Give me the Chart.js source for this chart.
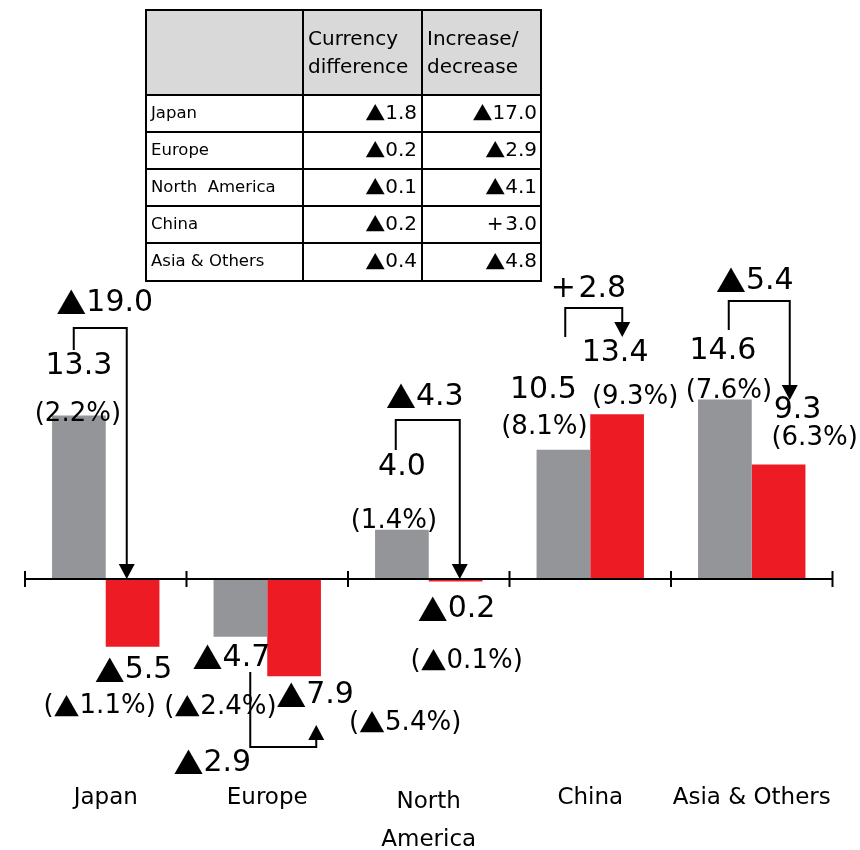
<!DOCTYPE html>
<html>
<head>
<meta charset="utf-8">
<script src="https://cdn.jsdelivr.net/npm/chart.js@4/dist/chart.umd.min.js"></script>
<style>
  html, body { margin:0; padding:0; background:#fff; }
  #wrap { position:relative; width:860px; height:850px; }
</style>
</head>
<body>
<div id="wrap"><canvas id="chart" width="860" height="850"></canvas></div>
<script>
// ====== Data ======
const categories = ['Japan', 'Europe', ['North', 'America'], 'China', 'Asia & Others'];
const prevProfit = [13.3, -4.7, 4.0, 10.5, 14.6];
const currProfit = [-5.5, -7.9, -0.2, 13.4, 9.3];
const prevMargin = ['(2.2%)', '(▲2.4%)', '(1.4%)', '(8.1%)', '(7.6%)'];
const currMargin = ['(▲1.1%)', '(▲5.4%)', '(▲0.1%)', '(9.3%)', '(6.3%)'];
const changeText = ['▲19.0', '▲2.9', '▲4.3', '+2.8', '▲5.4'];

// breakdown table
const tableRegions  = ['Japan', 'Europe', 'North  America', 'China', 'Asia & Others'];
const currencyDiff  = ['▲1.8', '▲0.2', '▲0.1', '▲0.2', '▲0.4'];
const increaseDecr  = ['▲17.0', '▲2.9', '▲4.1', '+3.0', '▲4.8'];

// ====== Layout (offsets in px) ======
// [dx from bar centre, dy from bar end]
const prevValPos = [[0,-49],[-9,21],[0,-63],[-20,-60],[-2,-48]];
const prevPctPos = [[-1,-1],[-20,70],[-8,-9],[-19,-23],[4,-8]];
const currValPos = [[1,24],[21,19],[1,28],[-2,-61],[19,-54]];
const currPctPos = [[-33,60],[111,47],[11,80],[18,-17],[36,-26]];
// bracket: x1, x2 (from category centre), yStart, yTurn, yTip (from zero line); label dx, dy
const brackets = [
  {x1:-32, x2:21, y1:-229, yt:-251, y2:0,    lx:-1,  ly:-276},
  {x1:-17, x2:49, y1:93,   yt:168,  y2:146,  lx:-55, ly:184},
  {x1:-33, x2:31, y1:-129, yt:-159, y2:0,    lx:-4,  ly:-182},
  {x1:-25, x2:32, y1:-242, yt:-271, y2:-242, lx:-3,  ly:-290},
  {x1:-23, x2:38, y1:-249, yt:-278, y2:-179, lx:3,   ly:-298}
];

const GRAY = '#939598', RED = '#ED1C24';
const FONT = '"DejaVu Sans", Verdana, sans-serif';
const SIGN_FONT = '"Noto Sans CJK JP", sans-serif';
const fmt = v => v < 0 ? '▲' + Math.abs(v).toFixed(1) : v.toFixed(1);

// ====== Drawing helpers ======
// ▲ and + sit in a full width (1em) box like the original Japanese font
function parts(s){
  const out = [];
  for (const ch of s){
    const sign = ch === '▲' || ch === '+';
    const last = out[out.length-1];
    if (!sign && last && !last.sign) last.t += ch;
    else out.push({t: ch, sign});
  }
  return out;
}
function text(ctx, s, x, y, size, align='center'){
  ctx.textBaseline = 'middle';
  ctx.fillStyle = '#000';
  const ps = parts(s);
  let w = 0;
  ps.forEach(p => {
    if (p.sign) p.w = size;
    else { ctx.font = `${size}px ${FONT}`; p.w = ctx.measureText(p.t).width; }
    w += p.w;
  });
  let cx = align === 'center' ? x - w/2 : align === 'right' ? x - w : x;
  ps.forEach(p => {
    if (p.sign){
      ctx.font = `${size}px ${p.t === '▲' ? SIGN_FONT : FONT}`;
      ctx.textAlign = 'center';
      ctx.fillText(p.t, cx + p.w/2, y);
    } else {
      ctx.font = `${size}px ${FONT}`;
      ctx.textAlign = 'left';
      ctx.fillText(p.t, cx, y);
    }
    cx += p.w;
  });
}
function arrowHead(ctx, x, tipY, dir){ // dir 1 = down, -1 = up
  ctx.beginPath();
  ctx.moveTo(x, tipY);
  ctx.lineTo(x - 8, tipY - dir*15);
  ctx.lineTo(x + 8, tipY - dir*15);
  ctx.closePath();
  ctx.fill();
}

function drawTable(ctx){
  const cols = [146, 303, 422, 541];
  const rows = [10, 95, 132, 169, 206, 243, 281];
  ctx.fillStyle = '#d9d9d9';
  ctx.fillRect(cols[0], rows[0], cols[3]-cols[0], rows[1]-rows[0]);
  ctx.strokeStyle = '#000';
  ctx.lineWidth = 2;
  ctx.beginPath();
  rows.forEach(y => { ctx.moveTo(cols[0]-1, y); ctx.lineTo(cols[3]+1, y); });
  cols.forEach(x => { ctx.moveTo(x, rows[0]); ctx.lineTo(x, rows[6]); });
  ctx.stroke();
  text(ctx, 'Currency', 308, 40, 20, 'left');
  text(ctx, 'difference', 308, 68, 20, 'left');
  text(ctx, 'Increase/', 427, 40, 20, 'left');
  text(ctx, 'decrease', 427, 68, 20, 'left');
  tableRegions.forEach((r, i) => {
    const y = (rows[i+1] + rows[i+2]) / 2;
    text(ctx, r, 151, y, 16.5, 'left');
    text(ctx, currencyDiff[i], 417, y, 20, 'right');
    text(ctx, increaseDecr[i], 537, y, 20, 'right');
  });
}

const overlay = {
  id: 'overlay',
  afterDatasetsDraw(chart){
    const {ctx, chartArea, scales:{x, y}} = chart;
    const y0 = y.getPixelForValue(0);
    const g = chart.getDatasetMeta(0).data, r = chart.getDatasetMeta(1).data;
    ctx.save();

    // axis line + ticks between categories
    ctx.strokeStyle = '#000';
    ctx.lineWidth = 2;
    ctx.beginPath();
    ctx.moveTo(chartArea.left, y0); ctx.lineTo(chartArea.right, y0);
    const step = x.getPixelForValue(1) - x.getPixelForValue(0);
    for (let i = 0; i <= categories.length; i++){
      const tx = x.getPixelForValue(0) - step/2 + i*step;
      ctx.moveTo(tx, y0 - 8); ctx.lineTo(tx, y0 + 8);
    }
    ctx.stroke();

    // category labels
    categories.forEach((c, i) => {
      const cx = x.getPixelForValue(i);
      if (Array.isArray(c)){
        text(ctx, c[0], cx, y0 + 223, 23);
        text(ctx, c[1], cx, y0 + 261, 23);
      } else text(ctx, c, cx, y0 + 219, 23);
    });

    // value + margin labels
    categories.forEach((c, i) => {
      text(ctx, fmt(prevProfit[i]), g[i].x + prevValPos[i][0], g[i].y + prevValPos[i][1], 30);
      text(ctx, prevMargin[i], g[i].x + prevPctPos[i][0], g[i].y + prevPctPos[i][1], 26);
      text(ctx, fmt(currProfit[i]), r[i].x + currValPos[i][0], r[i].y + currValPos[i][1], 30);
      text(ctx, currMargin[i], r[i].x + currPctPos[i][0], r[i].y + currPctPos[i][1], 26);
    });

    // change brackets
    ctx.fillStyle = '#000';
    brackets.forEach((b, i) => {
      const cx = x.getPixelForValue(i);
      const dir = b.y2 > b.yt ? 1 : -1;
      ctx.beginPath();
      ctx.moveTo(cx + b.x1, y0 + b.y1);
      ctx.lineTo(cx + b.x1, y0 + b.yt);
      ctx.lineTo(cx + b.x2, y0 + b.yt);
      ctx.lineTo(cx + b.x2, y0 + b.y2 - dir*12);
      ctx.stroke();
      arrowHead(ctx, cx + b.x2, y0 + b.y2, dir);
      text(ctx, changeText[i], cx + b.lx, y0 + b.ly, 30);
    });

    drawTable(ctx);
    ctx.restore();
  }
};

// ====== Chart ======
new Chart(document.getElementById('chart'), {
  type: 'bar',
  data: {
    labels: categories,
    datasets: [
      { label: 'prev', data: prevProfit, backgroundColor: GRAY, borderWidth: 0 },
      { label: 'curr', data: currProfit, backgroundColor: RED,  borderWidth: 0 }
    ]
  },
  options: {
    responsive: false,
    animation: false,
    layout: { padding: { left: 25, right: 27.5, top: 333, bottom: 148 } },
    datasets: { bar: { categoryPercentage: 0.665, barPercentage: 1.0 } },
    scales: {
      x: { display: false },
      y: { display: false, min: -10, max: 20 }
    },
    plugins: { legend: { display: false }, tooltip: { enabled: false } }
  },
  plugins: [overlay]
});
</script>
</body>
</html>
